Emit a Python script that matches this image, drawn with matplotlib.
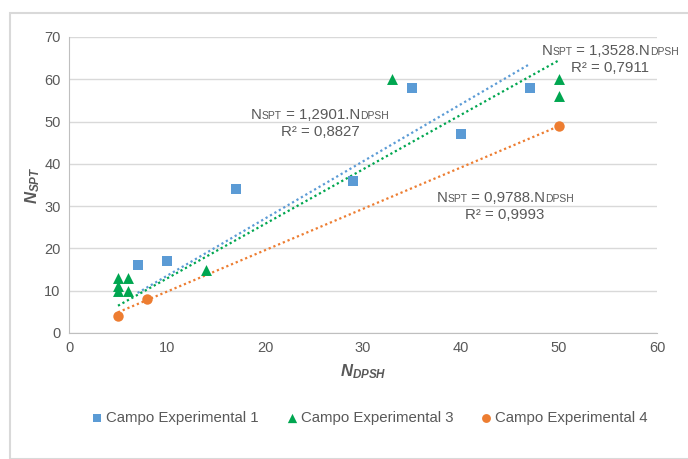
import matplotlib
matplotlib.use("Agg")
import matplotlib.pyplot as plt
import numpy as np
from matplotlib.offsetbox import TextArea, HPacker, VPacker, AnnotationBbox
from matplotlib.patches import Rectangle

plt.rcParams['font.family'] = ['Liberation Sans', 'DejaVu Sans']
plt.rcParams['mathtext.fontset'] = 'custom'
plt.rcParams['mathtext.it'] = 'Liberation Sans:italic:bold'
plt.rcParams['mathtext.rm'] = 'Liberation Sans:bold'

# Data
c1_x = [7, 10, 17, 29, 35, 40, 47]
c1_y = [16, 17, 34, 36, 58, 47, 58]
c3_x = [5, 5, 5, 6, 6, 14, 33, 50, 50]
c3_y = [13, 11, 10, 13, 10, 15, 60, 60, 56]
c4_x = [5, 8, 50]
c4_y = [4, 8, 49]

slopes = {"c1": 1.3528, "c3": 1.2901, "c4": 0.9788}
r2 = {"c1": "0,7911", "c3": "0,8827", "c4": "0,9993"}
slope_txt = {"c1": "1,3528", "c3": "1,2901", "c4": "0,9788"}

labels = ["Campo Experimental 1", "Campo Experimental 3", "Campo Experimental 4"]
blue = "#5B9BD5"
green = "#00A650"
orange = "#ED7D31"
gray = "#595959"

fig = plt.figure(figsize=(6.88, 4.59), dpi=100)
# outer border
fig.patches.append(Rectangle((10/688, 0.0), 1.0, 1 - 13/459, transform=fig.transFigure,
                             fill=False, edgecolor="#D9D9D9", linewidth=1.5))
ax = fig.add_axes([69/688, 1 - 333/459, (657 - 69)/688, (333 - 37)/459])

ax.set_xlim(0, 60)
ax.set_ylim(0, 70)
ax.set_xticks(np.arange(0, 61, 10))
ax.set_yticks(np.arange(0, 71, 10))
ax.yaxis.grid(True, color="#D9D9D9", linewidth=1)
ax.set_axisbelow(True)
for s in ["top", "right"]:
    ax.spines[s].set_visible(False)
for s in ["left", "bottom"]:
    ax.spines[s].set_color("#BFBFBF")
ax.tick_params(length=0, colors=gray, labelsize=10.5, pad=6)

ms = 7.5
ax.scatter(c1_x, c1_y, marker="s", s=ms**2, color=blue, label=labels[0], zorder=3, linewidths=0)
ax.scatter(c3_x, c3_y, marker="^", s=ms**2 * 1.1, color=green, label=labels[1], zorder=3, linewidths=0)
ax.scatter(c4_x, c4_y, marker="o", s=ms**2, color=orange, label=labels[2], zorder=3, linewidths=0)

ls = (0, (1, 1.3))
for xs, k, col in [(c1_x, "c1", blue), (c3_x, "c3", green), (c4_x, "c4", orange)]:
    xx = np.array([min(xs), max(xs)])
    ax.plot(xx, slopes[k] * xx, linestyle=ls, color=col, linewidth=1.6, zorder=2)

def eq_box(k):
    fs, fsm = 10.8, 7.5
    line1 = HPacker(children=[
        TextArea("N", textprops=dict(size=fs, color=gray)),
        TextArea("SPT", textprops=dict(size=fsm, color=gray)),
        TextArea(" = " + slope_txt[k] + ".N", textprops=dict(size=fs, color=gray)),
        TextArea("DPSH", textprops=dict(size=fsm, color=gray)),
    ], align="baseline", pad=0, sep=0)
    line2 = TextArea("R² = " + r2[k], textprops=dict(size=fs, color=gray))
    return VPacker(children=[line1, line2], align="center", pad=0, sep=2)

for k, pos in [("c3", (25.6, 49.6)), ("c1", (55.2, 64.7)), ("c4", (44.5, 30.0))]:
    ab = AnnotationBbox(eq_box(k), pos, xycoords="data", frameon=False,
                        box_alignment=(0.5, 0.5), pad=0, annotation_clip=False)
    ax.add_artist(ab)

fig.text(363/688, 1 - 372/459, r"$N_{DPSH}$",
         ha="center", va="center", fontsize=12, color=gray)
fig.text(33/688, 1 - 185/459, r"$N_{SPT}$",
         ha="center", va="center", fontsize=12, color=gray, rotation=90)

leg = fig.legend(loc="center", bbox_to_anchor=(369/688, 1 - 418/459), ncol=3, frameon=False,
                 fontsize=10.8, handletextpad=0.1, columnspacing=1.7, handlelength=1.0,
                 labelcolor=gray, markerscale=0.85)

fig.savefig("out.png", dpi=100)
